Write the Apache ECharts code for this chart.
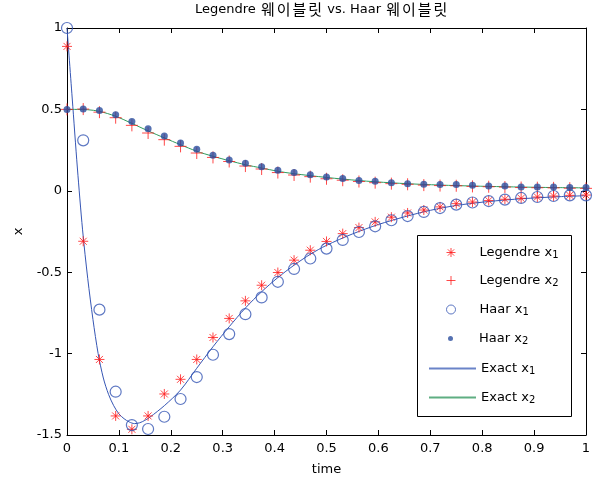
<!DOCTYPE html>
<html>
<head>
<meta charset="utf-8">
<script src="https://cdn.jsdelivr.net/npm/echarts@6/dist/echarts.min.js"></script>
<style>
  html, body { margin: 0; padding: 0; background: #fff; }
  #chart { width: 597px; height: 479px; }
</style>
</head>
<body>
<div id="chart"></div>
<script>
// Collocation times of the wavelet solutions
const times = [0, 0.03125, 0.0625, 0.09375, 0.125, 0.15625, 0.1875, 0.21875, 0.25, 0.28125,
  0.3125, 0.34375, 0.375, 0.40625, 0.4375, 0.46875, 0.5, 0.53125, 0.5625, 0.59375, 0.625,
  0.65625, 0.6875, 0.71875, 0.75, 0.78125, 0.8125, 0.84375, 0.875, 0.90625, 0.9375, 0.96875, 1];

// Legendre wavelet solution
const legendreX1 = [0.887, -0.31, -1.036, -1.383, -1.465, -1.383, -1.248, -1.158, -1.036, -0.901,
  -0.784, -0.676, -0.580, -0.502, -0.426, -0.365, -0.311, -0.263, -0.226, -0.191, -0.162,
  -0.136, -0.118, -0.099, -0.079, -0.069, -0.060, -0.052, -0.046, -0.038, -0.032, -0.028, -0.026];
const legendreX2 = [0.500, 0.502, 0.483, 0.449, 0.402, 0.355, 0.314, 0.273, 0.232, 0.205,
  0.180, 0.152, 0.134, 0.112, 0.097, 0.087, 0.074, 0.065, 0.057, 0.050, 0.044,
  0.040, 0.035, 0.032, 0.031, 0.027, 0.025, 0.023, 0.020, 0.019, 0.018, 0.016, 0.015];

// Haar wavelet solution
const haarX1 = [1.0, 0.31, -0.73, -1.234, -1.439, -1.463, -1.388, -1.279, -1.144, -1.007,
  -0.880, -0.758, -0.655, -0.559, -0.480, -0.416, -0.355, -0.302, -0.253, -0.218, -0.181,
  -0.155, -0.130, -0.106, -0.085, -0.072, -0.063, -0.054, -0.044, -0.038, -0.032, -0.028, -0.028];
const haarX2 = [0.500, 0.502, 0.494, 0.467, 0.426, 0.381, 0.336, 0.293, 0.255, 0.218,
  0.189, 0.169, 0.148, 0.126, 0.112, 0.099, 0.085, 0.075, 0.064, 0.058, 0.050,
  0.044, 0.040, 0.038, 0.038, 0.034, 0.029, 0.029, 0.023, 0.023, 0.023, 0.020, 0.020];

// Exact solution
const exactTimesX1 = [0, 0.01, 0.02, 0.03, 0.04, 0.05, 0.06, 0.07, 0.08, 0.09, 0.10, 0.11, 0.12,
  0.13, 0.14, 0.15, 0.16, 0.1875, 0.21875, 0.25, 0.28125, 0.3125, 0.34375, 0.375, 0.40625,
  0.4375, 0.46875, 0.5, 0.55, 0.6, 0.65, 0.7, 0.75, 0.8, 0.85, 0.9, 0.95, 1];
const exactX1 = [1.0, 0.57, 0.14, -0.24, -0.54, -0.79, -1.0, -1.15, -1.25, -1.32, -1.37, -1.40, -1.42,
  -1.43, -1.425, -1.41, -1.39, -1.32, -1.224, -1.09, -0.958, -0.835, -0.72, -0.62, -0.533,
  -0.457, -0.39, -0.335, -0.265, -0.207, -0.16, -0.12, -0.09, -0.07, -0.055, -0.044, -0.036, -0.03];
const exactTimesX2 = [0, 0.02, 0.04, 0.0625, 0.09375, 0.125, 0.15625, 0.1875, 0.21875, 0.25,
  0.28125, 0.3125, 0.34375, 0.375, 0.40625, 0.4375, 0.5, 0.5625, 0.625, 0.6875, 0.75,
  0.8125, 0.875, 0.9375, 1];
const exactX2 = [0.5, 0.5, 0.498, 0.488, 0.458, 0.414, 0.368, 0.325, 0.283, 0.243,
  0.212, 0.185, 0.16, 0.14, 0.12, 0.105, 0.082, 0.063, 0.049, 0.039, 0.032,
  0.027, 0.023, 0.02, 0.018];

const seriesNames = ['Legendre x1', 'Legendre x2', 'Haar x1', 'Haar x2', 'Exact x1', 'Exact x2'];
const titleParts = ['Legendre ', '웨이블릿', ' vs. Haar ', '웨이블릿'];

const RED = '#ff1a1a';
const BLUE = '#3656b4';
const DOT = '#2b4d9e';
const GREEN = '#2f9a5c';
const FONT = '"DejaVu Sans", "Noto Sans CJK KR", sans-serif';
const KFONT = '"Noto Sans CJK KR", "DejaVu Sans", sans-serif';

const ASTERISK = 'path://M5,0L5,10M0,5L10,5M1.5,1.5L8.5,8.5M1.5,8.5L8.5,1.5';
const PLUS = 'path://M5,0L5,10M0,5L10,5';

const pair = (xs, ys) => xs.map((x, i) => [x, ys[i]]);

const hollow = (stroke, w) => ({ color: 'rgba(0,0,0,0)', borderColor: stroke, borderWidth: w });

const series = [
  { name: seriesNames[0], type: 'scatter', symbol: ASTERISK, symbolSize: 10,
    itemStyle: hollow(RED, 1), data: pair(times, legendreX1) },
  { name: seriesNames[1], type: 'scatter', symbol: PLUS, symbolSize: 12,
    itemStyle: hollow(RED, 1), data: pair(times, legendreX2) },
  { name: seriesNames[2], type: 'scatter', symbol: 'circle', symbolSize: 11,
    itemStyle: hollow(BLUE, 1.2), data: pair(times, haarX1) },
  { name: seriesNames[3], type: 'scatter', symbol: 'circle', symbolSize: 7,
    itemStyle: { color: DOT }, data: pair(times, haarX2) },
  { name: seriesNames[4], type: 'line', symbol: 'none', smooth: 0.3,
    lineStyle: { color: BLUE, width: 1 }, itemStyle: { color: BLUE },
    data: pair(exactTimesX1, exactX1) },
  { name: seriesNames[5], type: 'line', symbol: 'none', smooth: 0.3,
    lineStyle: { color: GREEN, width: 1 }, itemStyle: { color: GREEN },
    data: pair(exactTimesX2, exactX2) }
].map(s => Object.assign({ silent: true, z: 2 }, s));

// One legend block per row so each marker can keep its own size
const legendIcons = [ASTERISK, PLUS, 'circle', 'circle', null, null];
const legendIconSize = [9, 9, 9, 5, 10, 10];
const legendRowTop = [246, 274, 303, 332, 362, 391];
const legendLeft = [446, 446, 446, 448, 428, 428];
const legendLineColor = [null, null, null, null, '#6a83c8', '#5fae82'];

const legends = seriesNames.map((name, i) => {
  const isLine = !legendIcons[i];
  return {
    data: [isLine ? { name } : { name, icon: legendIcons[i] }],
    left: legendLeft[i],
    top: legendRowTop[i],
    padding: 0,
    itemWidth: 47,
    itemHeight: legendIconSize[i],
    selectedMode: false,
    z: 5,
    itemStyle: isLine
      ? { color: 'rgba(0,0,0,0)', borderColor: 'rgba(0,0,0,0)', borderWidth: 0, opacity: 0 }
      : { borderWidth: i < 3 ? 1 : 0 },
    lineStyle: isLine ? { width: 2, color: legendLineColor[i] } : { width: 1 },
    formatter: n => n.replace(/(\d)$/, '{sub|$1}'),
    textStyle: {
      fontFamily: FONT, fontSize: 13, color: '#000',
      rich: { sub: { fontFamily: FONT, fontSize: 10, color: '#000', padding: [8, 0, 2, 0] } }
    }
  };
});

// Hangul syllables are set one token each so they get a little tracking
const hangul = s => Array.from(s).map(ch => `{k|${ch}}`).join('');
const titleText = titleParts.map(p => /[\uac00-\ud7a3]/.test(p) ? hangul(p) : p).join('');

const axisLineStyle = { color: '#000', width: 1 };
const tickStyle = { inside: true, length: 5, lineStyle: { color: '#000' } };
const labelText = { fontFamily: FONT, fontSize: 13, color: '#000' };

const option = {
  animation: false,
  textStyle: { fontFamily: FONT },
  title: {
    text: titleText,
    left: 195, top: 2, padding: 0,
    textStyle: {
      fontFamily: FONT, fontSize: 13, fontWeight: 'normal', color: '#000',
      rich: { k: { fontFamily: KFONT, fontSize: 15, color: '#000', padding: [0, 1, 0, 1] } }
    }
  },
  grid: { left: 67, right: 11, top: 28, bottom: 44, containLabel: false, outerBoundsMode: 'none' },
  xAxis: [
    { type: 'value', min: 0, max: 1, interval: 0.1, position: 'bottom',
      name: 'time', nameLocation: 'middle', nameGap: 28, nameTextStyle: labelText,
      axisLine: { onZero: false, lineStyle: axisLineStyle },
      axisTick: tickStyle, splitLine: { show: false },
      axisLabel: Object.assign({ margin: 7 }, labelText) },
    { type: 'value', min: 0, max: 1, interval: 0.1, position: 'top',
      axisLine: { onZero: false, lineStyle: axisLineStyle },
      axisTick: tickStyle, splitLine: { show: false }, axisLabel: { show: false } }
  ],
  yAxis: [
    { type: 'value', min: -1.5, max: 1, interval: 0.5, position: 'left',
      name: 'x', nameLocation: 'middle', nameGap: 42, nameTextStyle: labelText,
      axisLine: { show: true, onZero: false, lineStyle: axisLineStyle },
      axisTick: tickStyle, splitLine: { show: false },
      axisLabel: Object.assign({ margin: 5 }, labelText) },
    { type: 'value', min: -1.5, max: 1, interval: 0.5, position: 'right',
      axisLine: { show: true, onZero: false, lineStyle: axisLineStyle },
      axisTick: tickStyle, splitLine: { show: false }, axisLabel: { show: false } }
  ],
  legend: legends,
  graphic: [{
    type: 'rect', z: 3,
    shape: { x: 417.5, y: 235.5, width: 154, height: 181 },
    style: { fill: '#fff', stroke: '#000', lineWidth: 1 }
  }],
  series
};

const chart = echarts.init(document.getElementById('chart'), null, { renderer: 'canvas' });
chart.setOption(option);
</script>
</body>
</html>
